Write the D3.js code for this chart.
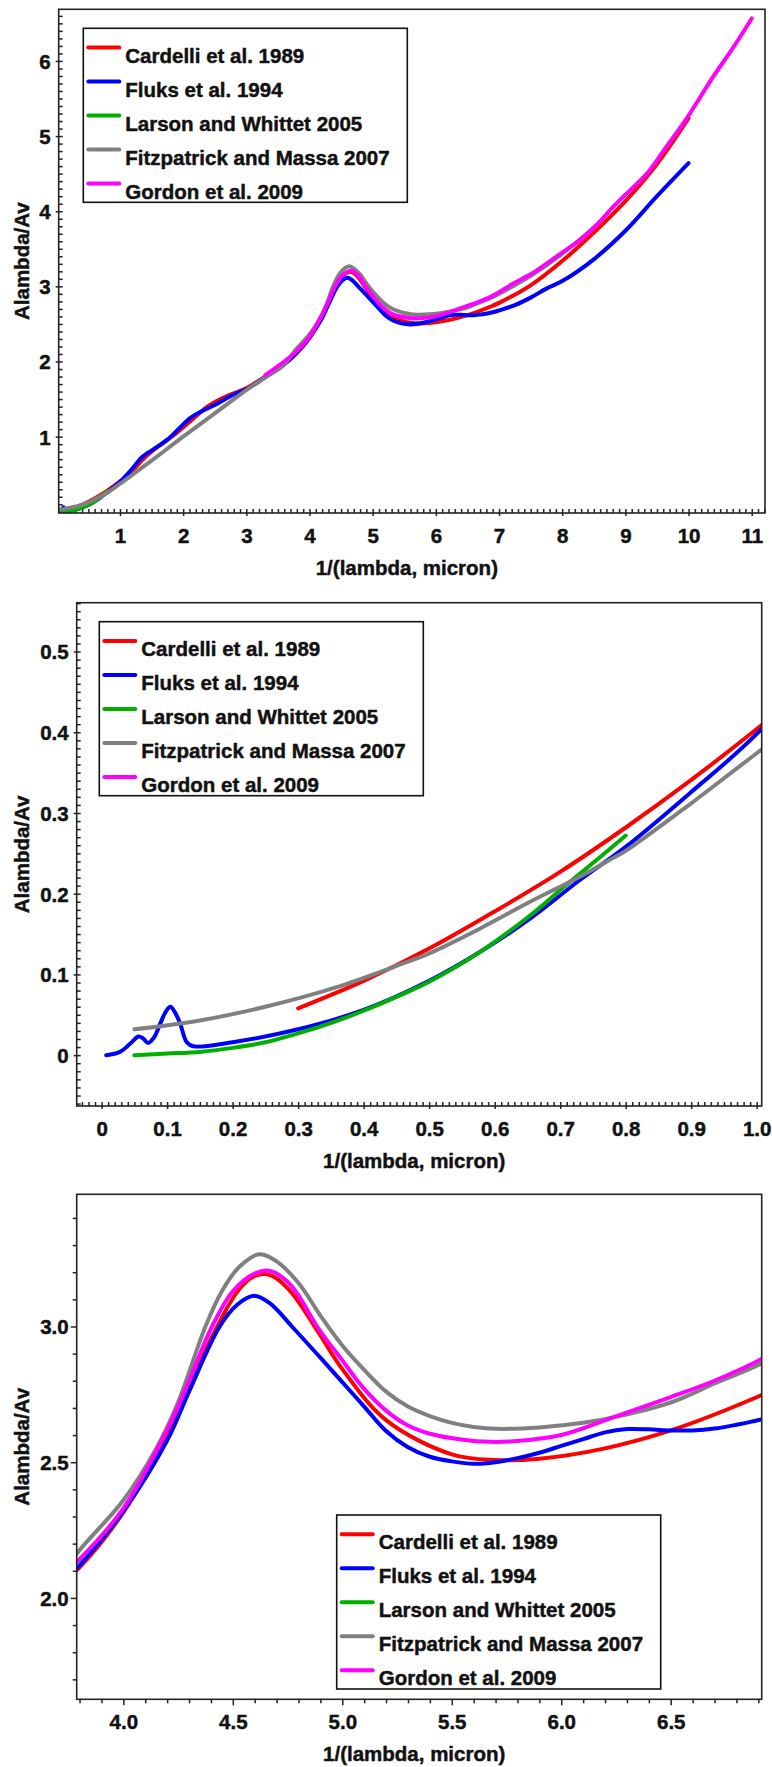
<!DOCTYPE html>
<html>
<head>
<meta charset="utf-8">
<script src="https://cdn.jsdelivr.net/npm/d3@7"></script>
<style>
  body { margin: 0; background: #fff; }
  svg { display: block; font-family: "Liberation Sans", Arial, sans-serif; font-weight: bold; }
  svg text { stroke: #111; stroke-width: 0.45px; }
</style>
</head>
<body>
<script>
// series data: [1/lambda (micron^-1), A(lambda)/Av]
var cardelli = [[0.3,0.058],[0.4,0.092],[0.5,0.132],[0.6,0.178],[0.7,0.227],[0.8,0.282],[0.9,0.341],[1.0,0.404],
  [1.1,0.471],[1.2,0.552],[1.4,0.728],[1.6,0.866],[1.82,1.0],[2.1,1.196],[2.4,1.409],[2.7,1.545],[3.0,1.643],
  [3.3,1.802],[3.5,1.905],[3.8,2.113],[4.0,2.315],[4.2,2.601],[4.3,2.775],[4.4,2.953],[4.5,3.104],[4.55,3.156],
  [4.6,3.186],[4.65,3.193],[4.7,3.177],[4.75,3.141],[4.8,3.091],[4.9,2.967],[5.0,2.843],[5.2,2.655],[5.5,2.529],
  [5.7,2.508],[5.9,2.513],[6.2,2.551],[6.5,2.617],[6.9,2.742],[7.0,2.78],[7.5,3.014],[8.0,3.337],[8.5,3.716],
  [9.0,4.134],[9.5,4.629],[10.0,5.238]];

var fluks = [[0.007,0.0],[0.028,0.004],[0.046,0.016],[0.056,0.023],[0.063,0.021],[0.071,0.015],[0.08,0.022],
  [0.09,0.040],[0.098,0.054],[0.105,0.060],[0.112,0.053],[0.12,0.039],[0.13,0.016],[0.14,0.011],[0.2,0.016],
  [0.3,0.032],[0.4,0.056],[0.5,0.092],[0.578,0.128],[0.654,0.169],[0.73,0.217],[0.8,0.258],[0.9,0.326],
  [1.0,0.398],[1.2,0.58],[1.35,0.73],[1.45,0.79],[1.6,0.87],[1.75,0.96],[1.95,1.12],[2.1,1.24],[2.3,1.34],
  [2.5,1.42],[2.8,1.56],[3.0,1.63],[3.3,1.79],[3.6,1.96],[3.8,2.12],[4.0,2.32],[4.2,2.58],[4.3,2.76],
  [4.44,3.0],[4.52,3.08],[4.597,3.113],[4.67,3.085],[4.77,3.0],[4.9,2.885],[5.0,2.795],[5.1,2.705],[5.2,2.615],
  [5.3,2.555],[5.4,2.52],[5.5,2.503],[5.6,2.494],[5.7,2.5],[5.8,2.515],[5.9,2.535],[6.0,2.56],[6.1,2.585],
  [6.2,2.61],[6.3,2.622],[6.4,2.621],[6.5,2.617],[6.6,2.617],[6.7,2.624],[6.8,2.638],[6.9,2.655],[7.0,2.68],
  [7.25,2.75],[7.5,2.85],[7.75,2.97],[8.0,3.07],[8.5,3.36],[9.0,3.74],[9.5,4.2],[10.0,4.64]];

var larson = [[0.05,0.0],[0.1,0.002],[0.15,0.004],[0.2,0.009],[0.25,0.016],[0.3,0.027],[0.354,0.041],[0.4,0.055],
  [0.455,0.074],[0.5,0.091],[0.578,0.128],[0.654,0.173],[0.705,0.208],[0.756,0.242],[0.8,0.272]];

var fitzpatrick = [[0.05,0.032],[0.15,0.043],[0.25,0.060],[0.354,0.083],[0.455,0.112],[0.5,0.126],[0.578,0.157],
  [0.654,0.19],[0.73,0.221],[0.776,0.242],[0.8,0.253],[0.9,0.312],[1.0,0.374],[1.5,0.68],[2.0,1.0],[2.5,1.31],
  [3.0,1.62],[3.3,1.79],[3.59,1.95],[3.787,2.163],[4.0,2.36],[4.15,2.55],[4.25,2.72],[4.375,3.0],[4.45,3.13],
  [4.53,3.22],[4.621,3.266],[4.7,3.24],[4.8,3.16],[4.9,3.04],[5.0,2.93],[5.1,2.84],[5.2,2.76],[5.3,2.705],
  [5.4,2.67],[5.5,2.645],[5.6,2.63],[5.705,2.623],[5.9,2.628],[6.1,2.645],[6.237,2.665],[6.5,2.72],[6.7,2.79],
  [6.915,2.864],[7.2,2.99],[7.5,3.14],[7.8,3.31],[8.1,3.5],[8.4,3.71],[8.6,3.86]];

var gordon = [[3.3,1.82],[3.6,2.0],[3.787,2.132],[4.0,2.33],[4.2,2.62],[4.3,2.80],[4.405,3.0],[4.5,3.13],
  [4.6,3.195],[4.67,3.205],[4.75,3.165],[4.8,3.115],[4.885,3.0],[5.0,2.875],[5.1,2.77],[5.2,2.69],[5.3,2.635],
  [5.4,2.605],[5.55,2.583],[5.674,2.575],[5.8,2.578],[6.0,2.6],[6.237,2.665],[6.5,2.74],[6.7,2.8],[6.915,2.88],
  [7.23,3.04],[7.5,3.16],[7.76,3.307],[8.0,3.45],[8.28,3.617],[8.5,3.78],[8.81,4.06],[9.0,4.22],[9.34,4.5],
  [9.6,4.8],[9.97,5.235],[10.39,5.79],[10.7,6.17],[11.0,6.565]];

var seriesNames = ["Cardelli et al. 1989", "Fluks et al. 1994", "Larson and Whittet 2005",
  "Fitzpatrick and Massa 2007", "Gordon et al. 2009"];
var seriesColors = ["#ff0000", "#0000ff", "#00b000", "#808080", "#ff00ff"];
var seriesData = [cardelli, fluks, larson, fitzpatrick, gordon];

var xTitle = "1/(lambda, micron)";
var yTitle = "Alambda/Av";

var W = 772, H = 1767;
var svg = d3.select("body").append("svg").attr("width", W).attr("height", H);

function rng(a, b, s) {
  var out = [];
  for (var v = a; v <= b + 1e-9; v += s) out.push(Math.round(v * 1000) / 1000);
  return out;
}
function notIn(list) {
  return function(v) { return !list.some(function(m) { return Math.abs(m - v) < 1e-6; }); };
}

// panel settings
var panels = [
  { left: 58.7, right: 765, top: 9.3, bottom: 513,
    xDom: [0.03, 11.21], yDom: [-0.016, 6.687],
    xMajor: rng(1, 11, 1), xMinor: rng(0.1, 11.2, 0.1), xFmt: d3.format("d"),
    yMajor: rng(1, 6, 1), yMinor: rng(0.1, 6.6, 0.1), yFmt: d3.format("d"),
    out: false, legend: [83.3, 28.3] },
  { left: 76.7, right: 761.7, top: 602.7, bottom: 1106,
    xDom: [-0.038, 1.0076], yDom: [-0.063, 0.5605],
    xMajor: rng(0, 1, 0.1), xMinor: rng(-0.03, 1.0, 0.01),
    xFmt: function(d) { return d === 0 ? "0" : d3.format(".1f")(d); },
    yMajor: rng(0, 0.5, 0.1), yMinor: rng(-0.06, 0.56, 0.01),
    yFmt: function(d) { return d === 0 ? "0" : d3.format(".1f")(d); },
    out: false, legend: [99.3, 621.7] },
  { left: 76.7, right: 761.7, top: 1194.3, bottom: 1699.3,
    xDom: [3.787, 6.9155], yDom: [1.6265, 3.487],
    xMajor: rng(4, 6.5, 0.5), xMinor: rng(3.8, 6.9, 0.1), xFmt: d3.format(".1f"),
    yMajor: rng(2, 3, 0.5), yMinor: rng(1.7, 3.4, 0.1), yFmt: d3.format(".1f"),
    out: true, legend: [336.7, 1515] }
];

panels.forEach(function(p, pi) {
  var x = d3.scaleLinear().domain(p.xDom).range([p.left, p.right]);
  var y = d3.scaleLinear().domain(p.yDom).range([p.bottom, p.top]);
  var g = svg.append("g");

  var clipId = "clip" + pi;
  svg.append("clipPath").attr("id", clipId).append("rect")
      .attr("x", p.left).attr("y", p.top)
      .attr("width", p.right - p.left).attr("height", p.bottom - p.top);

  // minor ticks
  var minX = p.xMinor.filter(notIn(p.xMajor));
  var minY = p.yMinor.filter(notIn(p.yMajor));
  var minLen = 4, majIn = p.out ? 0 : 4, majOut = p.out ? 6 : 3;

  g.append("g")
      .attr("transform", "translate(0," + p.bottom + ")")
      .call(d3.axisBottom(x).tickValues(minX).tickSize(p.out ? minLen : -minLen).tickFormat(""))
      .call(function(s) { s.select(".domain").remove(); });
  g.append("g")
      .attr("transform", "translate(" + p.left + ",0)")
      .call(d3.axisLeft(y).tickValues(minY).tickSize(p.out ? minLen : -minLen).tickFormat(""))
      .call(function(s) { s.select(".domain").remove(); });

  // major ticks + labels
  var xa = g.append("g")
      .attr("transform", "translate(0," + p.bottom + ")")
      .call(d3.axisBottom(x).tickValues(p.xMajor).tickSize(majOut).tickFormat(p.xFmt));
  xa.select(".domain").remove();
  xa.selectAll(".tick line").attr("y1", -majIn);
  xa.selectAll(".tick text").attr("y", 15).attr("dy", "0.71em");

  var ya = g.append("g")
      .attr("transform", "translate(" + p.left + ",0)")
      .call(d3.axisLeft(y).tickValues(p.yMajor).tickSize(majOut).tickFormat(p.yFmt));
  ya.select(".domain").remove();
  ya.selectAll(".tick line").attr("x1", majIn);
  ya.selectAll(".tick text").attr("x", -8).attr("dy", "0.36em");

  g.selectAll(".tick line").attr("stroke", "#222").attr("stroke-width", 1.5);
  g.selectAll(".tick text").attr("font-size", 20.5).attr("font-weight", "bold")
      .attr("font-family", "'Liberation Sans', Arial, sans-serif").attr("fill", "#111");

  // curves
  var line = d3.line()
      .x(function(d) { return x(d[0]); })
      .y(function(d) { return y(d[1]); })
      .curve(d3.curveCatmullRom.alpha(0.5));

  var lines = g.append("g").attr("clip-path", "url(#" + clipId + ")");
  seriesData.forEach(function(data, i) {
    lines.append("path")
        .datum(data)
        .attr("d", line)
        .attr("fill", "none")
        .attr("stroke", seriesColors[i])
        .attr("stroke-width", 4)
        .attr("stroke-linecap", "round")
        .attr("stroke-linejoin", "round");
  });

  // frame
  g.append("rect")
      .attr("x", p.left).attr("y", p.top)
      .attr("width", p.right - p.left).attr("height", p.bottom - p.top)
      .attr("fill", "none").attr("stroke", "#222").attr("stroke-width", 1.6);

  // axis titles
  g.append("text")
      .attr("x", (p.left + p.right) / 2 - 5)
      .attr("y", p.bottom + 62)
      .attr("text-anchor", "middle")
      .attr("font-size", 20.5)
      .attr("fill", "#111")
      .text(xTitle);
  g.append("text")
      .attr("transform", "translate(29," + (p.top + p.bottom) / 2 + ") rotate(-90)")
      .attr("text-anchor", "middle")
      .attr("font-size", 20.5)
      .attr("fill", "#111")
      .text(yTitle);

  // legend
  var lg = g.append("g").attr("transform", "translate(" + p.legend[0] + "," + p.legend[1] + ")");
  lg.append("rect")
      .attr("width", 324).attr("height", 174)
      .attr("fill", "#fff").attr("stroke", "#111").attr("stroke-width", 1.6);
  seriesNames.forEach(function(name, i) {
    var ry = 19.3 + 34 * i;
    lg.append("line")
        .attr("x1", 5).attr("x2", 36).attr("y1", ry).attr("y2", ry)
        .attr("stroke", seriesColors[i]).attr("stroke-width", 4).attr("stroke-linecap", "round");
    lg.append("text")
        .attr("x", 42).attr("y", ry + 15)
        .attr("font-size", 20.5).attr("fill", "#111")
        .text(name);
  });
});
</script>
</body>
</html>
